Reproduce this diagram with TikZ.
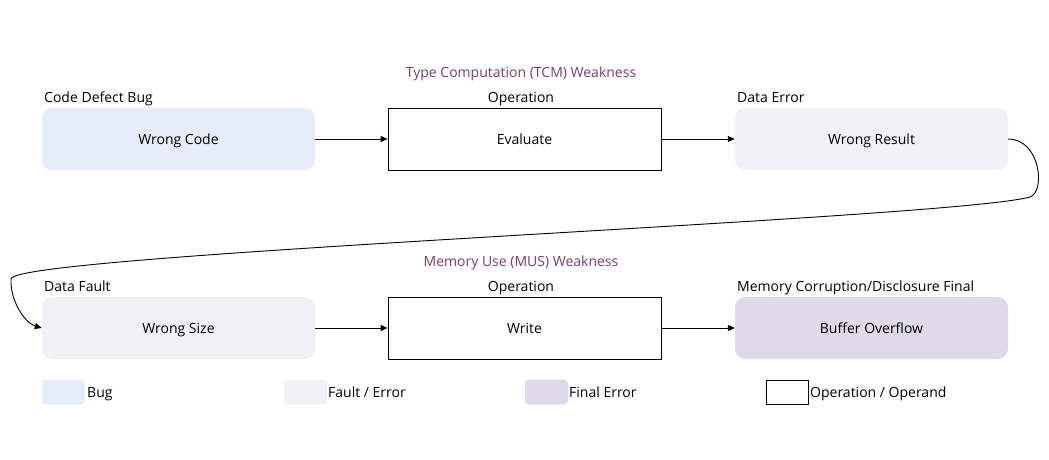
\documentclass[tikz,border=0pt]{standalone}
\usepackage{fontspec}
\setmainfont{Open Sans}
\usetikzlibrary{arrows.meta}
\definecolor{bugfill}{RGB}{230,237,250}
\definecolor{faultfill}{RGB}{242,240,247}
\definecolor{finalfill}{RGB}{222,218,233}
\definecolor{weakcol}{RGB}{125,58,110}
\tikzset{
  every node/.style={font=\fontsize{14}{16}\selectfont, text height=12pt, text depth=1pt},
  box/.style={minimum width=273pt, minimum height=62pt, inner sep=0pt},
  bugbox/.style={box, fill=bugfill, rounded corners=10pt},
  faultbox/.style={box, fill=faultfill, rounded corners=10pt},
  finalbox/.style={box, fill=finalfill, rounded corners=10pt},
  opbox/.style={box, draw=black, line width=0.9pt},
  keybox/.style={minimum width=43pt, minimum height=25pt, inner sep=0pt, rounded corners=4pt},
  flow/.style={-{Triangle[length=7pt,width=6pt]}, line width=0.9pt},
  weak/.style={text=weakcol}
}
\begin{document}
\begin{tikzpicture}[x=1pt, y=1pt]
  \useasboundingbox (0,0) rectangle (1049,459);
  \node[weak, inner sep=0pt] (t1) at (521,387) {Type Computation (TCM) Weakness};
  \node[anchor=west, inner sep=0pt] (l1) at (44,362) {Code Defect Bug};
  \node[inner sep=0pt] (l2) at (521,362) {Operation};
  \node[anchor=west, inner sep=0pt] (l3) at (737,362) {Data Error};
  \node[bugbox] (0) at (178.5,320) {Wrong Code};
  \node[opbox] (1) at (524.5,320) {Evaluate};
  \node[faultbox] (2) at (871.5,320) {Wrong Result};
  \node[weak, inner sep=0pt] (t2) at (521,198) {Memory Use (MUS) Weakness};
  \node[anchor=west, inner sep=0pt] (l4) at (44,173) {Data Fault};
  \node[inner sep=0pt] (l5) at (521,173) {Operation};
  \node[anchor=west, inner sep=0pt] (l6) at (737,173) {Memory Corruption/Disclosure Final};
  \node[faultbox] (3) at (178.5,131) {Wrong Size};
  \node[opbox] (4) at (524.5,131) {Write};
  \node[finalbox] (5) at (871.5,131) {Buffer Overflow};
  \coordinate (turn) at (1030,262);
  \coordinate (lft) at (11,180);
  \draw[flow] (0)--(1);
  \draw[flow] (1)--(2);
  \draw[flow] (3)--(4);
  \draw[flow] (4)--(5);
  \draw[flow] (2.east) .. controls (1040,320) and (1046,268) .. (turn)
    .. controls (950,240) and (10,205) .. (lft)
    .. controls (10,158) and (25,136) .. (3.west);
  \node[keybox, fill=bugfill] (k1) at (63.5,67) {};
  \node[anchor=west, inner sep=0pt] (k1t) at (87,67) {Bug};
  \node[keybox, fill=faultfill] (k2) at (305.5,67) {};
  \node[anchor=west, inner sep=0pt] (k2t) at (328,67) {Fault / Error};
  \node[keybox, fill=finalfill] (k3) at (546.5,67) {};
  \node[anchor=west, inner sep=0pt] (k3t) at (569,67) {Final Error};
  \node[keybox, draw=black, rounded corners=0pt, line width=0.9pt, minimum width=42pt, minimum height=24pt] (k4) at (787,67) {};
  \node[anchor=west, inner sep=0pt] (k4t) at (810,67) {Operation / Operand};
\end{tikzpicture}
\end{document}
